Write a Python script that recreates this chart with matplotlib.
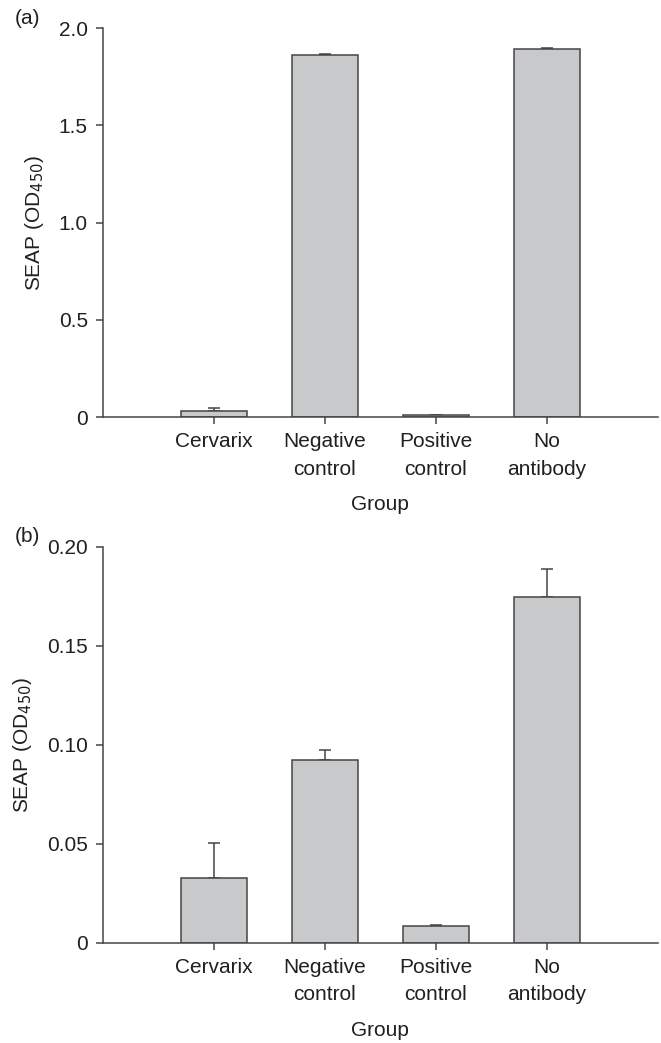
import numpy as np
import matplotlib
matplotlib.use('Agg')
from matplotlib import pyplot as plt

plt.rcParams['font.family'] = ['Liberation Sans', 'DejaVu Sans']

groups = ['Cervarix', 'Negative\ncontrol', 'Positive\ncontrol', 'No\nantibody']

# panel (a)
seap_a = [0.030, 1.862, 0.010, 1.893]
err_a = [0.016, 0.004, 0.003, 0.003]

# panel (b)
seap_b = [0.0325, 0.0925, 0.0083, 0.1745]
err_b = [0.0180, 0.0050, 0.0006, 0.0140]

ylim_a = (0, 2.0)
yticks_a = [0, 0.5, 1.0, 1.5, 2.0]
ylabels_a = ['0', '0.5', '1.0', '1.5', '2.0']
ylim_b = (0, 0.20)
yticks_b = [0, 0.05, 0.10, 0.15, 0.20]
ylabels_b = ['0', '0.05', '0.10', '0.15', '0.20']

line_col = '#454545'
bar_col = '#c8c9cb'
txt_col = '#231f20'


def draw(ax, vals, errs, ylim, yticks, ylabels, tag):
    x = np.arange(1, len(groups) + 1)
    ax.bar(x, vals, width=0.6, color=bar_col, edgecolor=line_col,
           linewidth=1.1, zorder=2)
    ax.errorbar(x, vals, yerr=[np.zeros(len(errs)), errs], fmt='none',
                ecolor=line_col, elinewidth=1.1, capsize=4, capthick=1.1,
                zorder=1)
    ax.set_xlim(0, 5)
    ax.set_ylim(*ylim)
    ax.set_yticks(yticks)
    ax.set_yticklabels(ylabels)
    ax.set_xticks(x)
    ax.set_xticklabels(groups, linespacing=1.55)
    for s in ['top', 'right']:
        ax.spines[s].set_visible(False)
    for s in ['left', 'bottom']:
        ax.spines[s].set_color(line_col)
        ax.spines[s].set_linewidth(1.1)
    ax.tick_params(direction='out', length=5, width=1.1, color=line_col,
                   labelsize=15, labelcolor=txt_col, pad=6)
    ax.set_ylabel('SEAP (OD$_{450}$)', fontsize=15, color=txt_col,
                  labelpad=9)
    ax.set_xlabel('Group', fontsize=15, color=txt_col, labelpad=12)
    ax.text(-0.16, 1.025, tag, transform=ax.transAxes, fontsize=15,
            color=txt_col, ha='left', va='center')


fig = plt.figure(figsize=(6.61, 10.43), dpi=100)
ax1 = fig.add_axes([0.156, 0.600, 0.839, 0.373])
ax2 = fig.add_axes([0.156, 0.096, 0.839, 0.380])

draw(ax1, seap_a, err_a, ylim_a, yticks_a, ylabels_a, '(a)')
draw(ax2, seap_b, err_b, ylim_b, yticks_b, ylabels_b, '(b)')

fig.savefig('out.png', dpi=100)
